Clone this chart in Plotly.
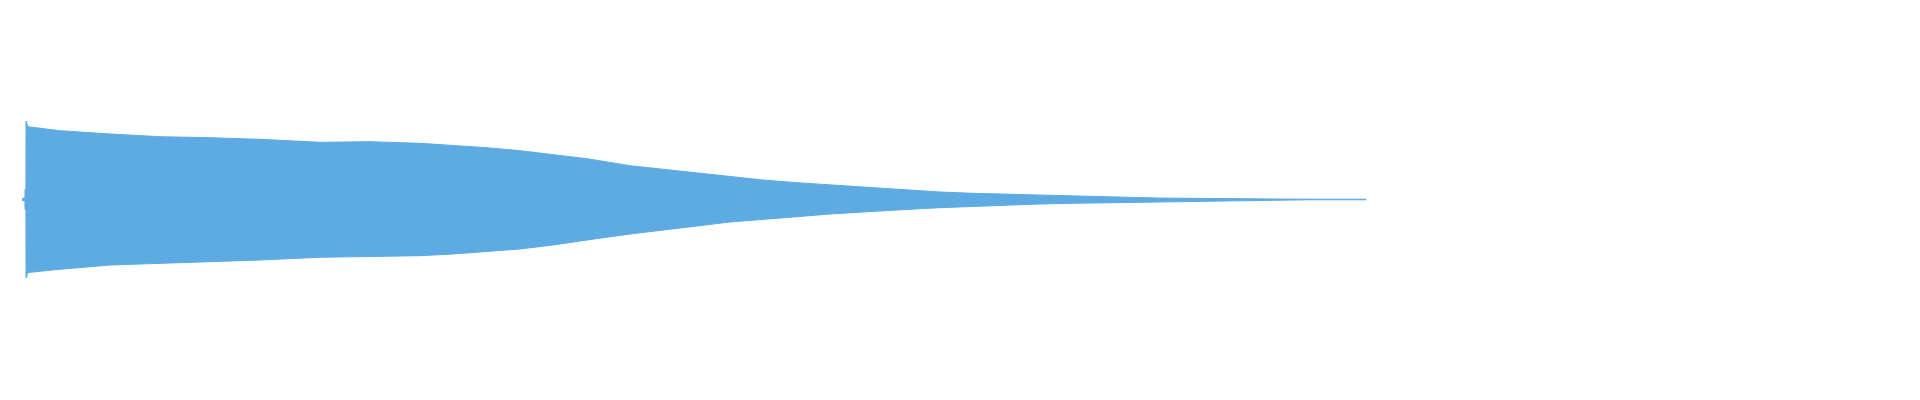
import plotly.graph_objects as go

# Time (s) of envelope readings
times = [0.0, 0.0044, 0.0045, 0.0058, 0.006, 0.0089, 0.0119, 0.0565, 0.131, 0.2054,
         0.2798, 0.3542, 0.4435, 0.5179, 0.5923, 0.6414, 0.692, 0.7411, 0.7902, 0.8408,
         0.9048, 0.9539, 1.0045, 1.0536, 1.1027, 1.1533, 1.2024, 1.2515, 1.3021, 1.3661,
         1.4152, 1.4658, 1.5149, 1.564, 1.6146, 1.689, 1.7381, 1.8125, 1.9122, 2.0]

# Positive peak envelope (normalized amplitude)
upper = [0.005, 0.005, 0.05, 0.05, 0.3925, 0.365, 0.3625, 0.344, 0.3275, 0.314,
         0.309, 0.301, 0.286, 0.289, 0.281, 0.271, 0.259, 0.244, 0.226, 0.204,
         0.169, 0.151, 0.131, 0.1125, 0.0975, 0.084, 0.0725, 0.061, 0.051, 0.0375,
         0.031, 0.026, 0.0225, 0.0175, 0.0125, 0.0075, 0.006, 0.0025, 0.0015, 0.0015]

# Negative peak envelope (magnitude)
lower = [0.005, 0.005, 0.05, 0.05, 0.3925, 0.365, 0.3625, 0.349, 0.3275, 0.316,
         0.311, 0.3025, 0.289, 0.286, 0.281, 0.2725, 0.261, 0.2475, 0.2275, 0.2025,
         0.1725, 0.1525, 0.1325, 0.1125, 0.099, 0.086, 0.0725, 0.0625, 0.0525, 0.041,
         0.036, 0.0275, 0.0225, 0.019, 0.016, 0.011, 0.0075, 0.006, 0.0015, 0.0015]

WAVE_COLOR = "#5DABE2"

xs = times + times[::-1]
ys = upper + [-v for v in lower[::-1]]

fig = go.Figure()
fig.add_trace(go.Scatter(
    x=xs, y=ys, mode="lines", fill="toself",
    fillcolor=WAVE_COLOR, line=dict(color=WAVE_COLOR, width=1),
    hoverinfo="skip", showlegend=False,
))

fig.update_layout(
    width=1904, height=384,
    margin=dict(l=0, r=0, t=0, b=0),
    paper_bgcolor="white", plot_bgcolor="white",
    showlegend=False,
    xaxis=dict(range=[-0.020833, 2.8125], visible=False, showgrid=False, zeroline=False, fixedrange=True),
    yaxis=dict(range=[-0.9625, 0.9575], visible=False, showgrid=False, zeroline=False, fixedrange=True),
)

fig.write_html("out.html", config={"displayModeBar": False})
